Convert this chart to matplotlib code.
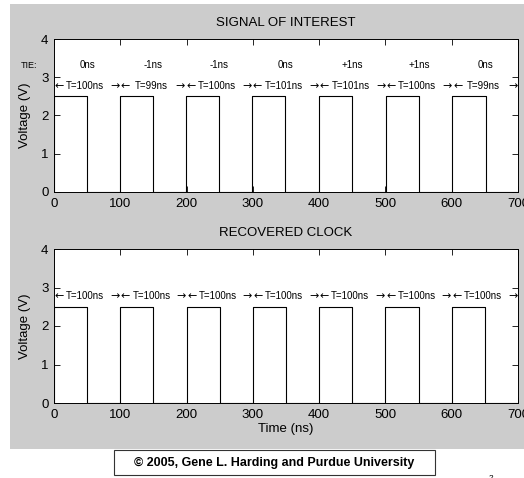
import numpy as np
import matplotlib.pyplot as plt
from matplotlib.patches import Rectangle

plt.rcParams['font.family'] = ['Liberation Sans', 'DejaVu Sans']

# Signal of interest: period of each cycle and time-interval error per edge
sig_periods = [100, 99, 100, 101, 101, 100, 99]
sig_tie = ['0ns', '-1ns', '-1ns', '0ns', '+1ns', '+1ns', '0ns']

# Recovered clock: ideal periods
clk_periods = [100, 100, 100, 100, 100, 100, 100]

pulse_width = 50
high_level = 2.5

x_ticks = [0, 100, 200, 300, 400, 500, 600, 700]
y_ticks = [0, 1, 2, 3, 4]


def edges_from(periods):
    return np.concatenate([[0], np.cumsum(periods)])


def square_wave(edges):
    # one pulse of fixed width at every rising edge, low in between
    t, v = [], []
    for e in edges[:-1]:
        t += [e, e, e + pulse_width, e + pulse_width]
        v += [0, high_level, high_level, 0]
    t.append(edges[-1])
    v.append(0)
    return t, v


def period_labels(ax, edges, periods):
    y = 2.78
    arrow = dict(va='center', fontsize=8, family='DejaVu Sans')
    for i, p in enumerate(periods):
        a, b = edges[i], edges[i + 1]
        ax.text(a + 1, y, '\u2190', ha='left', **arrow)
        ax.text(b - 1, y, '\u2192', ha='right', **arrow)
        ax.text((a + b) / 2 - 3, y, f'T={p}ns', ha='center', va='center', fontsize=7)


def style_axes(ax, title):
    ax.set_xlim(0, 700)
    ax.set_ylim(0, 4)
    ax.set_xticks(x_ticks)
    ax.set_yticks(y_ticks)
    ax.tick_params(direction='in', top=True, right=True, length=4,
                   width=0.6, labelsize=9.5, pad=4)
    for s in ax.spines.values():
        s.set_linewidth(0.7)
    ax.set_title(title, fontsize=9.5, pad=9)


fig = plt.figure(figsize=(5.24, 4.78), dpi=100)
fig.patch.set_facecolor('white')

# grey panel behind both plots
fig.patches.append(Rectangle((10 / 524, 1 - 449 / 478), 1 - 10 / 524, 445 / 478,
                             transform=fig.transFigure, facecolor='#cccccc',
                             edgecolor='none', zorder=-10))

ax1 = fig.add_axes([54 / 524, 1 - 192 / 478, 464 / 524, 153 / 478])
ax2 = fig.add_axes([54 / 524, 1 - 403 / 478, 464 / 524, 154 / 478])

# top: signal with jitter
sig_edges = edges_from(sig_periods)
t, v = square_wave(sig_edges)
ax1.plot(t, v, color='black', linewidth=0.8)
style_axes(ax1, 'SIGNAL OF INTEREST')
period_labels(ax1, sig_edges, sig_periods)
ax1.text(-38, 3.32, 'TIE:', ha='center', va='center', fontsize=6.5, clip_on=False)
for i, lab in enumerate(sig_tie):
    mid = (sig_edges[i] + sig_edges[i + 1]) / 2
    ax1.text(mid, 3.32, lab, ha='center', va='center', fontsize=7)

# bottom: recovered clock
clk_edges = edges_from(clk_periods)
t, v = square_wave(clk_edges)
ax2.plot(t, v, color='black', linewidth=0.8)
style_axes(ax2, 'RECOVERED CLOCK')
period_labels(ax2, clk_edges, clk_periods)
ax2.set_xlabel('Time (ns)', fontsize=9.5, labelpad=2)

for ax in (ax1, ax2):
    pos = ax.get_position()
    fig.text(25 / 524, pos.y0 + pos.height / 2, 'Voltage (V)', rotation=90,
             ha='center', va='center', fontsize=9.5)

# copyright box
fig.patches.append(Rectangle((114 / 524, 1 - 475 / 478), 321 / 524, 25 / 478,
                             transform=fig.transFigure, facecolor='white',
                             edgecolor='#333333', linewidth=0.8, zorder=1))
fig.text(274.5 / 524, 1 - 462.5 / 478,
         '\u00a9 2005, Gene L. Harding and Purdue University',
         ha='center', va='center', fontsize=9, fontweight='bold', zorder=2)
fig.text(491 / 524, 0.0, '2', ha='center', va='center', fontsize=6)

fig.savefig('out.png', dpi=100)
